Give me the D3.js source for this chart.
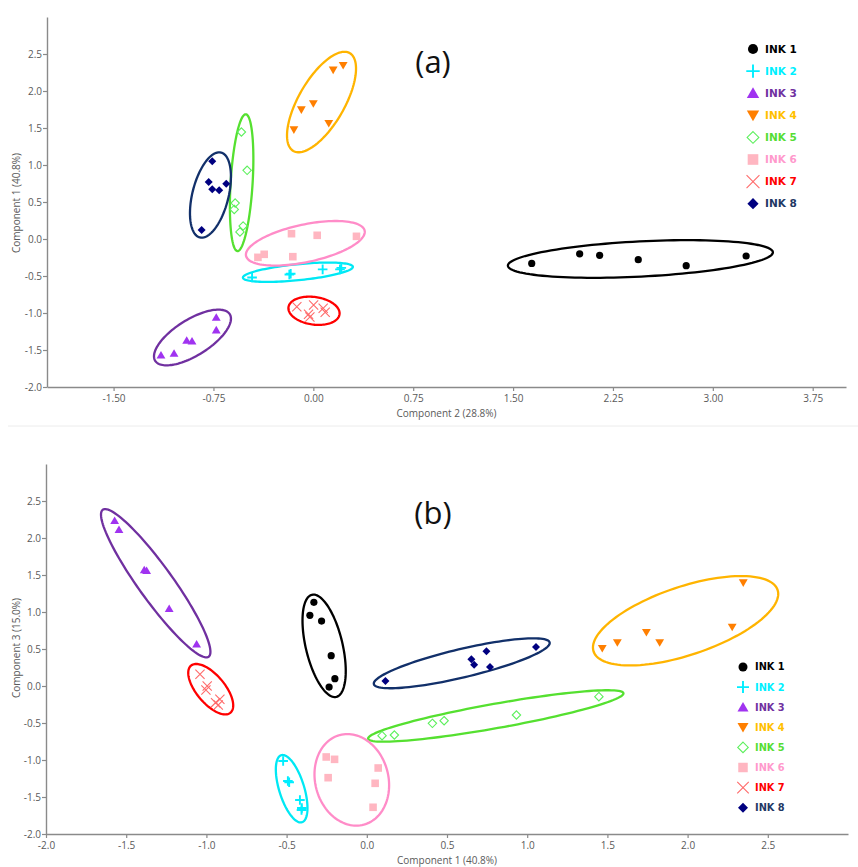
<!DOCTYPE html>
<html>
<head>
<meta charset="utf-8">
<script src="https://cdn.jsdelivr.net/npm/d3@7"></script>
<style>
  html, body { margin: 0; padding: 0; background: #fff; }
  svg { display: block; }
</style>
</head>
<body>
<svg id="chart" width="858" height="867"></svg>
<script>
// ---------------- DATA ----------------
const inks = ["INK 1", "INK 2", "INK 3", "INK 4", "INK 5", "INK 6", "INK 7", "INK 8"];

// Panel (a): x = Component 2, y = Component 1
const panelA_x = [
  [1.64, 2.00, 2.15, 2.44, 2.80, 3.25],
  [-0.46, -0.18, -0.17, 0.07, 0.20, 0.21],
  [-1.144, -1.046, -0.951, -0.911, -0.729, -0.729],
  [-0.146, -0.09, 0.0, 0.116, 0.149, 0.224],
  [-0.54, -0.497, -0.587, -0.594, -0.527, -0.551],
  [-0.416, -0.369, -0.164, -0.154, 0.029, 0.324],
  [-0.124, 0.002, -0.036, -0.026, 0.074, 0.089],
  [-0.759, -0.786, -0.759, -0.707, -0.654, -0.839]
];
const panelA_y = [
  [-0.33, -0.20, -0.22, -0.28, -0.36, -0.23],
  [-0.52, -0.48, -0.47, -0.41, -0.41, -0.39],
  [-1.57, -1.545, -1.37, -1.38, -1.06, -1.23],
  [1.477, 1.747, 1.83, 1.563, 2.284, 2.347],
  [1.446, 0.928, 0.486, 0.40, 0.176, 0.095],
  [-0.248, -0.207, 0.072, -0.239, 0.05, 0.036],
  [-0.915, -0.892, -1.018, -1.054, -0.936, -0.99],
  [1.05, 0.77, 0.672, 0.658, 0.747, 0.122]
];
// group ellipses (data units): centre cx, cy and conjugate semi-axis vectors u, v
const panelA_ellipses = [
  [2.456, -0.270, 0.995, 0.091, 0.0067, -0.2376],
  [-0.116, -0.449, 0.4127, 0.0742, 0.006, -0.1076],
  [-0.9075, -1.331, 0.280, 0.315, 0.0716, -0.206],
  [0.0615, 1.851, 0.212, 0.661, 0.149, -0.155],
  [-0.5385, 0.761, 0.0314, 0.924, 0.0824, -0.0091],
  [-0.060, -0.058, 0.4454, 0.1705, 0.0293, -0.2485],
  [0.005, -0.970, 0.1916, -0.0485, -0.0144, -0.1846],
  [-0.7725, 0.5946, 0.0795, 0.574, 0.1317, -0.0592]
];

// Panel (b): x = Component 1, y = Component 3
const panelB_x = [
  [-0.33, -0.355, -0.282, -0.222, -0.199, -0.235],
  [-0.5215, -0.484, -0.492, -0.417, -0.407, -0.405],
  [-1.572, -1.545, -1.3875, -1.3726, -1.232, -1.061],
  [1.468, 1.562, 1.743, 1.826, 2.278, 2.347],
  [0.095, 0.172, 0.409, 0.482, 0.933, 1.447],
  [-0.253, -0.201, -0.241, 0.071, 0.052, 0.039],
  [-1.04, -0.995, -1.003, -0.916, -0.943, -0.926],
  [0.116, 0.652, 0.669, 0.746, 0.768, 1.055]
];
const panelB_y = [
  [1.131, 0.955, 0.878, 0.41, 0.099, -0.014],
  [-1.014, -1.301, -1.284, -1.541, -1.676, -1.649],
  [2.234, 2.112, 1.568, 1.558, 1.045, 0.564],
  [0.509, 0.586, 0.725, 0.586, 0.797, 1.396],
  [-0.671, -0.662, -0.505, -0.469, -0.392, -0.144],
  [-0.959, -0.991, -1.239, -1.108, -1.315, -1.639],
  [0.158, 0.0, -0.054, -0.18, -0.225, -0.257],
  [0.068, 0.36, 0.288, 0.469, 0.257, 0.527]
];
const panelB_ellipses = [
  [-0.266, 0.543, 0.0758, -0.690, -0.1115, -0.0576],
  [-0.4685, -1.388, 0.0647, -0.453, -0.0744, -0.05],
  [-1.316, 1.389, 0.330, -0.993, -0.0864, -0.135],
  [1.9875, 0.882, 0.5736, 0.416, 0.0676, -0.438],
  [0.804, -0.405, 0.796, 0.3077, 0.0133, -0.1623],
  [-0.0935, -1.268, 0.0748, -0.6056, -0.2203, -0.128],
  [-0.973, -0.043, 0.123, -0.318, -0.0673, -0.1225],
  [0.592, 0.307, 0.548, 0.281, 0.0204, -0.1868]
];

const panelA_xTicks = [-1.5, -0.75, 0, 0.75, 1.5, 2.25, 3.0, 3.75];
const panelA_yTicks = [-2.0, -1.5, -1.0, -0.5, 0.0, 0.5, 1.0, 1.5, 2.0, 2.5];
const panelB_xTicks = [-2.0, -1.5, -1.0, -0.5, 0.0, 0.5, 1.0, 1.5, 2.0, 2.5];
const panelB_yTicks = [-2.0, -1.5, -1.0, -0.5, 0.0, 0.5, 1.0, 1.5, 2.0, 2.5];

// ---------------- STYLES ----------------
const markerType = ["circle", "plus", "tri", "triDown", "diamondOpen", "square", "cross", "diamond"];
const markerColor = ["#000000", "#00eeff", "#a033f0", "#ff7f00", "#5cf05c", "#ffb6c1", "#ff6a6a", "#000080"];
const ellipseColor = ["#000000", "#00e8f4", "#7030a0", "#ffb400", "#55e030", "#ff8cc8", "#ff0000", "#12306a"];
const textColor = ["#000000", "#00f0ff", "#7030a0", "#ffc000", "#55dd33", "#ff99cc", "#ff0000", "#1f3864"];

const loc = d3.formatLocale({decimal: ".", thousands: ",", grouping: [3], currency: ["", ""], minus: "-"});

const svg = d3.select("#chart");
svg.append("rect").attr("width", 858).attr("height", 867).attr("fill", "#fff");

function markerPath(type, s) {
  switch (type) {
    case "plus": return `M${-s},0H${s}M0,${-s}V${s}`;
    case "cross": return `M${-s},${-s}L${s},${s}M${-s},${s}L${s},${-s}`;
    case "tri": return `M0,${-s}L${s * 1.05},${s * 0.8}L${-s * 1.05},${s * 0.8}Z`;
    case "triDown": return `M0,${s}L${s * 1.05},${-s * 0.8}L${-s * 1.05},${-s * 0.8}Z`;
    case "diamond":
    case "diamondOpen": return `M0,${-s}L${s},0L0,${s}L${-s},0Z`;
    case "square": return `M${-s},${-s}H${s}V${s}H${-s}Z`;
  }
  return "";
}

function drawMarker(g, i, cx, cy, k) {
  const t = markerType[i], c = markerColor[i];
  if (t === "circle") {
    g.append("circle").attr("cx", cx).attr("cy", cy).attr("r", 3.6 * k).attr("fill", c);
    return;
  }
  const sizes = {plus: 4.8, cross: 4.6, tri: 4.2, triDown: 4.2, diamond: 4.0, diamondOpen: 4.2, square: 3.8};
  const p = g.append("path").attr("d", markerPath(t, sizes[t] * k))
    .attr("transform", `translate(${cx},${cy})`);
  if (t === "plus") p.attr("fill", "none").attr("stroke", c).attr("stroke-width", 1.9);
  else if (t === "cross") p.attr("fill", "none").attr("stroke", c).attr("stroke-width", 1.1);
  else if (t === "diamondOpen") p.attr("fill", "none").attr("stroke", c).attr("stroke-width", 1.1);
  else p.attr("fill", c);
}

function drawPanel(opt) {
  const {xDom, yDom, xRange, yRange, xs, ys, ells, xTicks, yTicks, xFmt, yFmt,
         xLabel, yLabel, xLabelY, yLabelCy, tag, tagY, legX, legY0, legStep, legK, legFont} = opt;
  const x = d3.scaleLinear().domain(xDom).range(xRange);
  const y = d3.scaleLinear().domain(yDom).range(yRange);
  const g = svg.append("g");

  // axes
  const xAxis = g.append("g").attr("transform", `translate(0,${yRange[0]})`)
    .call(d3.axisBottom(x).tickValues(xTicks).tickFormat(loc.format(xFmt)).tickSize(4).tickSizeOuter(0).tickPadding(4));
  const yAxis = g.append("g").attr("transform", `translate(${xRange[0]},0)`)
    .call(d3.axisLeft(y).tickValues(yTicks).tickFormat(loc.format(yFmt)).tickSize(4).tickSizeOuter(0).tickPadding(1));
  [xAxis, yAxis].forEach(a => {
    a.select(".domain").attr("stroke", "#8a8a8a").attr("stroke-width", 1.4);
    a.selectAll(".tick line").attr("stroke", "#8a8a8a").attr("stroke-width", 1.2);
    a.selectAll(".tick text").attr("fill", "#5a5a5a")
      .style("font-family", "'Open Sans', sans-serif").style("font-size", "10px");
  });

  // axis titles
  g.append("text").attr("x", (xRange[0] + xRange[1]) / 2).attr("y", xLabelY)
    .attr("text-anchor", "middle").attr("fill", "#5a5a5a")
    .style("font-family", "'Open Sans', sans-serif").style("font-size", "10px").text(xLabel);
  g.append("text").attr("transform", `translate(20,${yLabelCy}) rotate(-90)`)
    .attr("text-anchor", "middle").attr("fill", "#5a5a5a")
    .style("font-family", "'Open Sans', sans-serif").style("font-size", "10px").text(yLabel);

  // panel tag
  g.append("text").attr("x", 433).attr("y", tagY).attr("text-anchor", "middle")
    .attr("fill", "#111").style("font-family", "'Open Sans', sans-serif").style("font-size", "31px").text(tag);

  // ellipses
  const line = d3.line().curve(d3.curveLinearClosed);
  ells.forEach((e, i) => {
    const [cx, cy, ux, uy, vx, vy] = e;
    const pts = d3.range(0, 120).map(k => {
      const t = k / 120 * 2 * Math.PI;
      return [x(cx + ux * Math.cos(t) + vx * Math.sin(t)), y(cy + uy * Math.cos(t) + vy * Math.sin(t))];
    });
    g.append("path").attr("d", line(pts)).attr("fill", "none")
      .attr("stroke", ellipseColor[i]).attr("stroke-width", 2.3);
  });

  // points
  xs.forEach((arr, i) => {
    arr.forEach((v, j) => drawMarker(g, i, x(v), y(ys[i][j]), 1));
  });

  // legend
  const lg = g.append("g");
  inks.forEach((name, i) => {
    const ly = legY0 + i * legStep;
    drawMarker(lg, i, legX, ly, legK);
    lg.append("text").attr("x", legX + 12).attr("y", ly).attr("dy", "0.35em")
      .attr("fill", textColor[i]).style("font-family", "'DejaVu Sans', sans-serif")
      .style("font-weight", "bold").style("font-size", legFont + "px").text(name);
  });
}

drawPanel({
  xDom: [-2, 4], yDom: [-2, 3], xRange: [47, 846], yRange: [387, 17],
  xs: panelA_x, ys: panelA_y, ells: panelA_ellipses,
  xTicks: panelA_xTicks, yTicks: panelA_yTicks, xFmt: ".2f", yFmt: ".1f",
  xLabel: "Component 2 (28.8%)", yLabel: "Component 1 (40.8%)", xLabelY: 417, yLabelCy: 203,
  tag: "(a)", tagY: 73, legX: 753, legY0: 49, legStep: 22.1, legK: 1.4, legFont: 10.5
});

// separator line between panels
svg.append("line").attr("x1", 8).attr("x2", 858).attr("y1", 426).attr("y2", 426)
  .attr("stroke", "#ececec").attr("stroke-width", 1);

drawPanel({
  xDom: [-2, 3], yDom: [-2, 3], xRange: [46, 848], yRange: [834, 464],
  xs: panelB_x, ys: panelB_y, ells: panelB_ellipses,
  xTicks: panelB_xTicks, yTicks: panelB_yTicks, xFmt: ".1f", yFmt: ".1f",
  xLabel: "Component 1 (40.8%)", yLabel: "Component 3 (15.0%)", xLabelY: 864, yLabelCy: 648,
  tag: "(b)", tagY: 524, legX: 743, legY0: 667, legStep: 20.1, legK: 1.25, legFont: 9.8
});
</script>
</body>
</html>
